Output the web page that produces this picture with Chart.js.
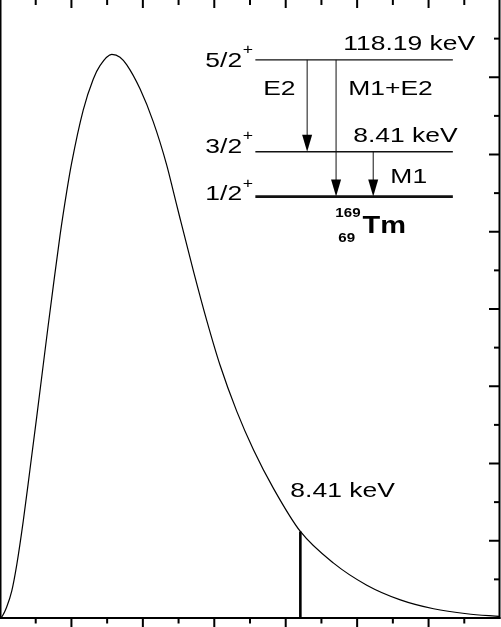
<!DOCTYPE html>
<html>
<head>
<meta charset="utf-8">
<script src="https://cdn.jsdelivr.net/npm/chart.js@4.4.0/dist/chart.umd.min.js"></script>
<style>
  html, body { margin: 0; padding: 0; background: #fff; }
  #wrap { width: 501px; height: 627px; }
</style>
</head>
<body>
<div id="wrap"><canvas id="chart" width="501" height="627"></canvas></div>
<script>
// spectrum (x in keV, y in arbitrary units)
const energyKeV = [0, 0.05, 0.19, 0.33, 0.47, 0.65, 0.84, 1.03, 1.21, 1.35, 1.49, 1.68, 1.87, 2.0,
  2.33, 2.61, 2.8, 3.13, 3.36, 3.55, 3.92, 4.29, 4.67, 4.86, 5.04, 5.42, 5.79, 6.16, 6.63,
  7.10, 7.66, 8.41, 9.34, 10.27, 11.21, 12.14, 13.07, 14.0];
const intensity = [0, 0.03, 0.29, 0.7, 1.38, 2.5, 3.85, 5.22, 6.55, 7.58, 8.58, 9.9, 11.05, 11.75,
  13.15, 13.95, 14.3, 14.59, 14.52, 14.32, 13.7, 12.85, 11.72, 11.02, 10.35, 8.97, 7.70, 6.55, 5.35,
  4.35, 3.35, 2.24, 1.42, 0.85, 0.47, 0.24, 0.11, 0.04];

// the 8.41 keV line
const lineEnergy = [8.41, 8.41];
const lineHeight = [0, 2.24];

// level scheme of 169Tm
const levelSpins = ['5/2', '3/2', '1/2'];
const levelLabels = ['118.19 keV', '8.41 keV', ''];
const transitions = ['E2', 'M1+E2', 'M1'];

// axis ranges
const xMax = 14;
const yMax = 16;

// where the inset goes, in axis units
const scheme = {
  x0: 7.15, x1: 12.68,
  levelY: [14.45, 12.07, 10.91],
  levelWidth: [1.4, 1.4, 2.6],
  spinX: 5.75, spinBase: [14.27, 12.04, 10.82],
  labelX: [9.61, 9.89], labelBase: [14.71, 12.33],
  arrowX: [8.60, 9.41, 10.45], arrowFrom: [0, 0, 1], arrowTo: [1, 2, 2],
  transX: [7.37, 9.75, 10.93], transBase: [13.54, 13.54, 11.26],
  nucX: 9.39, massBase: 10.39, zBase: 9.74, symX: 10.15, symBase: 9.97,
  peakLabelX: 8.13, peakLabelBase: 3.13
};

const STRETCH = 1.26;
const FONT = '"Liberation Sans", Arial, Helvetica, sans-serif';

function stretchedText(ctx, txt, x, y, font) {
  ctx.save();
  ctx.font = font;
  ctx.textAlign = 'left';
  ctx.textBaseline = 'alphabetic';
  ctx.translate(x, y);
  ctx.scale(STRETCH, 1);
  ctx.fillText(txt, 0, 0);
  const w = ctx.measureText(txt).width * STRETCH;
  ctx.restore();
  return w;
}

const overlay = {
  id: 'overlay',
  afterDraw(chart) {
    const { ctx, chartArea: a, scales } = chart;
    const sx = v => scales.x.getPixelForValue(v);
    const sy = v => scales.y.getPixelForValue(v);

    ctx.save();
    ctx.strokeStyle = '#000';
    ctx.fillStyle = '#000';

    // frame (top edge is cut off in the original)
    ctx.lineWidth = 1.5;
    ctx.beginPath(); ctx.moveTo(a.left + 0.75, a.top); ctx.lineTo(a.left + 0.75, a.bottom); ctx.stroke();
    ctx.lineWidth = 2;
    ctx.beginPath(); ctx.moveTo(a.right - 0.5, a.top); ctx.lineTo(a.right - 0.5, a.bottom + 1); ctx.stroke();
    ctx.beginPath(); ctx.moveTo(a.left, a.bottom); ctx.lineTo(a.right + 0.5, a.bottom); ctx.stroke();

    // ticks: x every 1 keV, major every 2; y every 1, major every 2
    for (let v = 1; v < xMax; v++) {
      const px = sx(v);
      const major = v % 2 === 0;
      ctx.beginPath();
      ctx.moveTo(px, a.bottom); ctx.lineTo(px, a.bottom + (major ? 9 : 5.5));
      ctx.moveTo(px, a.top); ctx.lineTo(px, a.top + (major ? 8 : 5));
      ctx.stroke();
    }
    for (let v = 1; v < yMax; v++) {
      const py = sy(v);
      const major = v % 2 === 0;
      ctx.beginPath();
      ctx.moveTo(a.right, py); ctx.lineTo(a.right - (major ? 11 : 6), py);
      ctx.stroke();
    }

    // label of the line
    stretchedText(ctx, lineEnergy[0].toFixed(2) + ' keV', sx(scheme.peakLabelX), sy(scheme.peakLabelBase), '21px ' + FONT);

    // level lines
    ctx.strokeStyle = '#111';
    scheme.levelY.forEach((lv, i) => {
      ctx.lineWidth = scheme.levelWidth[i];
      ctx.beginPath();
      ctx.moveTo(sx(scheme.x0), sy(lv));
      ctx.lineTo(sx(scheme.x1), sy(lv));
      ctx.stroke();
    });

    // spins with superscript +
    levelSpins.forEach((s, i) => {
      const bx = sx(scheme.spinX), by = sy(scheme.spinBase[i]);
      const w = stretchedText(ctx, s, bx, by, '21px ' + FONT);
      stretchedText(ctx, '+', bx + w + 0.5, by - 12.5, '14px ' + FONT);
    });

    // energies
    levelLabels.forEach((t, i) => {
      if (!t) return;
      stretchedText(ctx, t, sx(scheme.labelX[i]), sy(scheme.labelBase[i]), '21px ' + FONT);
    });

    // transitions with arrows
    ctx.lineWidth = 1;
    transitions.forEach((t, i) => {
      const ax = sx(scheme.arrowX[i]);
      const yTop = sy(scheme.levelY[scheme.arrowFrom[i]]);
      const yEnd = sy(scheme.levelY[scheme.arrowTo[i]]);
      ctx.beginPath();
      ctx.moveTo(ax, yTop);
      ctx.lineTo(ax, yEnd - 14);
      ctx.stroke();
      ctx.beginPath();
      ctx.moveTo(ax - 5, yEnd - 17);
      ctx.lineTo(ax + 5, yEnd - 17);
      ctx.lineTo(ax, yEnd);
      ctx.closePath();
      ctx.fill();
      stretchedText(ctx, t, sx(scheme.transX[i]), sy(scheme.transBase[i]), '21px ' + FONT);
    });

    // nuclide
    stretchedText(ctx, '169', sx(scheme.nucX), sy(scheme.massBase), 'bold 12px ' + FONT);
    stretchedText(ctx, '69', sx(scheme.nucX) + 3, sy(scheme.zBase), 'bold 12px ' + FONT);
    stretchedText(ctx, 'Tm', sx(scheme.symX), sy(scheme.symBase), 'bold 23px ' + FONT);

    ctx.restore();
  }
};

const ctx = document.getElementById('chart').getContext('2d');
new Chart(ctx, {
  type: 'scatter',
  data: {
    datasets: [
      {
        label: 'spectrum',
        data: energyKeV.map((e, i) => ({ x: e, y: intensity[i] })),
        showLine: true,
        borderColor: '#000',
        borderWidth: 1.2,
        pointRadius: 0,
        cubicInterpolationMode: 'monotone',
        fill: false
      },
      {
        label: '8.41 keV',
        data: lineEnergy.map((e, i) => ({ x: e, y: lineHeight[i] })),
        showLine: true,
        borderColor: '#000',
        borderWidth: 2.6,
        pointRadius: 0
      }
    ]
  },
  options: {
    responsive: false,
    animation: false,
    devicePixelRatio: 1,
    layout: { padding: { left: 0, top: 0, right: 1, bottom: 9 } },
    plugins: { legend: { display: false }, tooltip: { enabled: false } },
    scales: {
      x: { type: 'linear', min: 0, max: xMax, display: false },
      y: { type: 'linear', min: 0, max: yMax, display: false }
    }
  },
  plugins: [overlay]
});
</script>
</body>
</html>
